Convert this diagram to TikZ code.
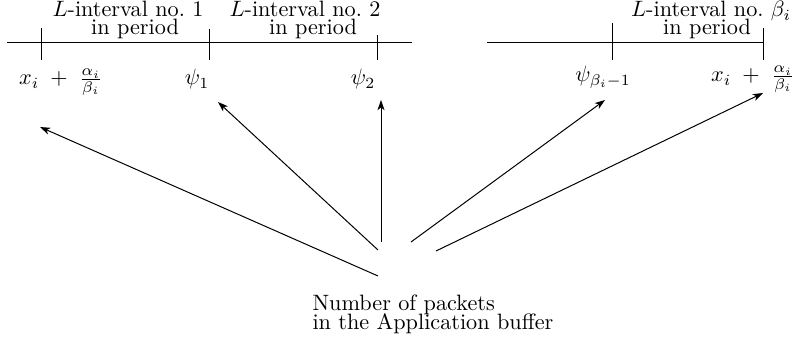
\documentclass[tikz,border=0pt]{standalone}
\usetikzlibrary{arrows.meta}
\begin{document}
\begin{tikzpicture}[x=0.45pt,y=-0.45pt,line width=0.45pt,
  lbl/.style={inner sep=0pt,anchor=base},
  ptr/.style={-{Stealth[length=4.6pt,width=3.2pt,inset=1.3pt]}},
  tickmark/.style={line width=0.45pt}]
\useasboundingbox (0,0) rectangle (812,349);
% axis lines
\draw (7,43) -- (412,43);
\draw (487,43) -- (763,43);
\foreach \x/\t in {41/28,209/29,377/35,612/23,763/28}
  \draw[tickmark] (\x,\t) -- (\x,60);
% interval labels
\node[lbl] (l1) at (128,17) {$L$-interval no.\ 1};
\node[lbl] (p1) at (135,34.5) {in period};
\node[lbl] (l2) at (305,17) {$L$-interval no.\ 2};
\node[lbl] (p2) at (313,34.5) {in period};
\node[lbl] (l3) at (711,17) {$L$-interval no.\ $\beta_i$};
\node[lbl] (p3) at (707,34.5) {in period};
% point labels
\node[lbl] (m0) at (61,85) {$x_i\;+\;\frac{\alpha_i}{\beta_i}$};
\node[lbl] (m1) at (197,85) {$\psi_1$};
\node[lbl] (m2) at (363,85) {$\psi_2$};
\node[lbl] (m3) at (603,82) {$\psi_{\beta_i-1}$};
\node[lbl] (m4) at (753,82) {$x_i\;+\;\frac{\alpha_i}{\beta_i}$};
% buffer label
\node[align=left,anchor=north west,inner sep=0pt] (buf) at (312,294)
  {Number of packets\\[-3.4pt]in the Application buffer};
% arrow ends
\coordinate (t1) at (378,276); \coordinate (h1) at (40,127);
\coordinate (t2) at (378,250); \coordinate (h2) at (218,102);
\coordinate (t3) at (381,242); \coordinate (h3) at (381,100);
\coordinate (t4) at (411,242); \coordinate (h4) at (605,100);
\coordinate (t5) at (436,251); \coordinate (h5) at (763,93);
\foreach \i in {1,...,5} \draw[ptr] (t\i) -- (h\i);
\end{tikzpicture}
\end{document}
